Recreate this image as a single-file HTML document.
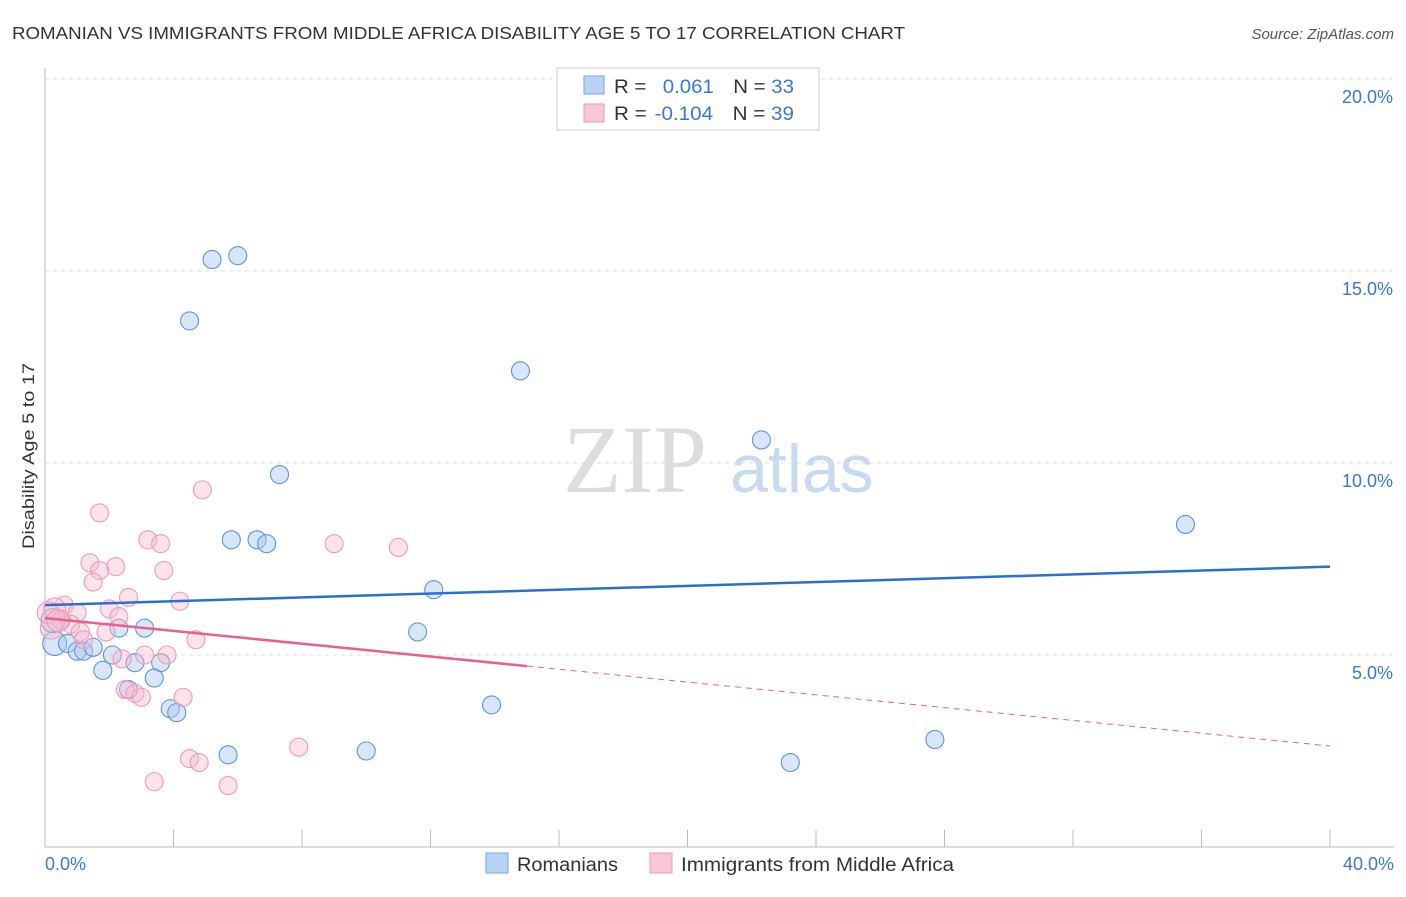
<!DOCTYPE html>
<html><head><meta charset="utf-8"><style>
body{margin:0;background:#fff;font-family:"Liberation Sans",sans-serif;}
</style></head><body>
<svg id="c" width="1406" height="892" xmlns="http://www.w3.org/2000/svg">
<text x="12" y="39" font-size="17.5" fill="#333" textLength="893" lengthAdjust="spacingAndGlyphs">ROMANIAN VS IMMIGRANTS FROM MIDDLE AFRICA DISABILITY AGE 5 TO 17 CORRELATION CHART</text>
<text x="1394" y="39" font-size="15" fill="#555" font-style="italic" text-anchor="end">Source: ZipAtlas.com</text>
<text x="635" y="492" font-size="96" fill="#ddd" font-family="Liberation Serif,serif" text-anchor="middle">ZIP</text>
<text x="802" y="492" font-size="68" fill="#c8d9f0" text-anchor="middle">atlas</text>
<g id="grid"></g><g id="marks"></g>
<text transform="translate(34,456) rotate(-90)" font-size="17" fill="#333" text-anchor="middle" textLength="186" lengthAdjust="spacingAndGlyphs">Disability Age 5 to 17</text>
<text x="45" y="870" font-size="18" fill="#3a78d8">0.0%</text>
<text x="1394" y="870" font-size="18" fill="#3a78d8" text-anchor="end">40.0%</text>
<g>
<rect x="557" y="68" width="262" height="62" fill="#fff" stroke="#ccc"/>
<rect x="584" y="76" width="20" height="18" fill="#b9d3f5" stroke="#7aa6e6"/>
<rect x="584" y="104" width="20" height="18" fill="#f9c6d6" stroke="#ee9ab5"/>
<text x="614" y="93" font-size="19" fill="#333" textLength="180" lengthAdjust="spacingAndGlyphs">R = <tspan fill="#3a78d8" dx="10">0.061</tspan><tspan dx="18" fill="#333">N = </tspan><tspan fill="#3a78d8">33</tspan></text>
<text x="614" y="120" font-size="19" fill="#333" textLength="180" lengthAdjust="spacingAndGlyphs">R = <tspan fill="#3a78d8" dx="2">-0.104</tspan><tspan dx="18" fill="#333">N = </tspan><tspan fill="#3a78d8">39</tspan></text>
</g>
<g>
<rect x="486" y="853" width="22" height="20" fill="#b9d3f5" stroke="#7aa6e6"/>
<text x="517" y="871" font-size="19" fill="#333" textLength="101" lengthAdjust="spacingAndGlyphs">Romanians</text>
<rect x="650" y="853" width="22" height="20" fill="#f9c6d6" stroke="#ee9ab5"/>
<text x="681" y="871" font-size="19" fill="#333" textLength="273" lengthAdjust="spacingAndGlyphs">Immigrants from Middle Africa</text>
</g>
</svg>
<script>
const yTicks=[5,10,15,20];
const yTickLabels=["5.0%","10.0%","15.0%","20.0%"];
const blueXs=[5.2,6.0,4.5,14.8,22.3,7.3,35.5,5.8,6.6,6.9,12.1,11.6,2.3,3.1,0.3,0.7,1.0,1.2,1.5,2.1,1.8,2.8,3.6,3.4,2.6,3.9,4.1,13.9,5.7,10.0,27.7,23.2,0.25];
const blueYs=[15.3,15.4,13.7,12.4,10.6,9.7,8.4,8.0,8.0,7.9,6.7,5.6,5.7,5.7,5.3,5.3,5.1,5.1,5.2,5.0,4.6,4.8,4.8,4.4,4.1,3.6,3.5,3.7,2.4,2.5,2.8,2.2,5.9];
const pinkX=[4.9,1.7,3.2,3.6,9.0,11.0,1.4,2.2,1.7,3.7,1.5,2.6,4.2,0.6,0.3,1.0,2.0,2.3,0.1,0.8,0.5,1.1,1.9,1.2,4.7,0.2,3.8,3.1,2.4,2.5,2.8,3.0,4.3,4.5,4.8,7.9,3.4,5.7,0.4];
const pinkY=[9.3,8.7,8.0,7.9,7.9,7.8,7.4,7.3,7.2,7.2,6.9,6.5,6.4,6.3,6.2,6.1,6.2,6.0,6.1,5.8,5.9,5.6,5.6,5.4,5.4,5.7,5.0,5.0,4.9,4.1,4.0,3.9,3.9,2.3,2.2,2.6,1.7,1.6,5.9];
const blueTrend=[6.3,7.3];
const pinkTrend=[5.96,2.63];
const pinkSolidEnd=15;
const X0=45,X1=1330,Y0=847,PPY=38.4;
const sx=v=>X0+v/40*(X1-X0), sy=v=>Y0-v*PPY;
const NS="http://www.w3.org/2000/svg";
const grid=document.getElementById('grid'), marks=document.getElementById('marks');
function mk(tag,attrs,parent){const e=document.createElementNS(NS,tag);for(const k in attrs)e.setAttribute(k,attrs[k]);parent.appendChild(e);return e;}
let ax=mk('line',{x1:45,y1:68,x2:45,y2:847,stroke:'#bbb'},grid);


let bx=mk('line',{x1:45,y1:847,x2:1394,y2:847,stroke:'#bbb'},grid);


for(let i=1;i<=10;i++){let t=mk('line',{x1:sx(i*4),y1:830,x2:sx(i*4),y2:847,stroke:'#bbb'},grid);

}
yTicks.forEach((v,i)=>{let g=mk('line',{x1:45,y1:sy(v),x2:1394,y2:sy(v),stroke:'#ddd','stroke-dasharray':'4,4'},grid);


let t=mk('text',{x:1393,y:sy(v)+24,'font-size':18,fill:'#3a78d8','text-anchor':'end'},grid);t.textContent=yTickLabels[i];

});
blueXs.forEach((v,i)=>{let c=mk('circle',{cx:sx(v),cy:sy(blueYs[i]),r:(v<0.5?12:9),fill:'rgba(170,200,240,0.45)',stroke:'#5a95e0','stroke-width':1.1},marks);

});
pinkX.forEach((v,i)=>{let c=mk('circle',{cx:sx(v),cy:sy(pinkY[i]),r:(v<0.5?11:9),fill:'rgba(248,185,205,0.4)',stroke:'#f09ab6','stroke-width':1.1},marks);

});
let bl=mk('line',{x1:sx(0),y1:sy(blueTrend[0]),x2:sx(40),y2:sy(blueTrend[1]),stroke:'#2a6fd6','stroke-width':2.5},marks);


const pAt=x=>pinkTrend[0]+(pinkTrend[1]-pinkTrend[0])*x/40;
let pl=mk('line',{x1:sx(0),y1:sy(pAt(0)),x2:sx(pinkSolidEnd),y2:sy(pAt(pinkSolidEnd)),stroke:'#e8608f','stroke-width':2.5},marks);


let pd=mk('line',{x1:sx(pinkSolidEnd),y1:sy(pAt(pinkSolidEnd)),x2:sx(40),y2:sy(pAt(40)),stroke:'#e8608f','stroke-width':1,'stroke-dasharray':'6,5'},marks);


</script>
</body></html>
